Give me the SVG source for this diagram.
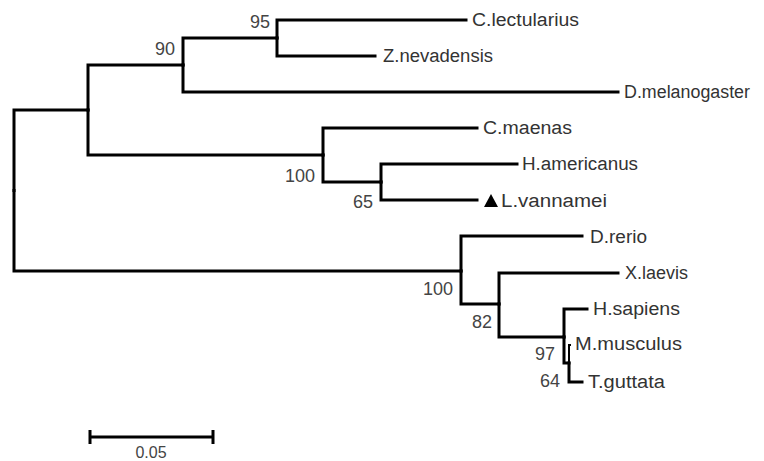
<svg xmlns="http://www.w3.org/2000/svg" width="764" height="461" viewBox="0 0 764 461">
<style>
.br{fill:none;stroke:#000;stroke-width:3;stroke-linecap:square;stroke-linejoin:miter}
.tx{font-family:"Liberation Sans",Arial,sans-serif;font-size:18px;fill:#333}
.bs{font-family:"Liberation Sans",Arial,sans-serif;font-size:18px;fill:#444;text-anchor:end}
.sc{font-family:"Liberation Sans",Arial,sans-serif;font-size:16px;fill:#444;text-anchor:middle}
</style>
<rect width="764" height="461" fill="#fff"/>
<g id="connectors">
<path class="br" d="M14 190.5 V110 H88"/>
<path class="br" d="M14 190.5 V271 H461"/>
<path class="br" d="M88 110 V65 H183"/>
<path class="br" d="M88 110 V155 H323"/>
<path class="br" d="M183 65 V38 H277"/>
<path class="br" d="M183 65 V92 H618"/>
<path class="br" d="M277 38 V20 H466"/>
<path class="br" d="M277 38 V56 H375"/>
<path class="br" d="M323 155 V128 H477"/>
<path class="br" d="M323 155 V182 H381"/>
<path class="br" d="M381 182 V164 H517"/>
<path class="br" d="M381 182 V200 H477"/>
<path class="br" d="M461 271 V236 H582"/>
<path class="br" d="M461 271 V304 H499"/>
<path class="br" d="M499 304 V273 H618"/>
<path class="br" d="M499 304 V337 H564"/>
<path class="br" d="M564 337 V309 H587"/>
<path class="br" d="M564 337 V363 H569"/>
<path class="br" d="M569 363 V345 H570" style="stroke-width:2"/>
<path class="br" d="M569 363 V382 H582"/>
</g>
<g id="n_root"/>
<g id="n_90"><text class="bs" x="175" y="55">90</text></g>
<g id="n_95"><text class="bs" x="270" y="28">95</text></g>
<g id="n_100a"><text class="bs" x="315" y="182">100</text></g>
<g id="n_65"><text class="bs" x="373" y="208">65</text></g>
<g id="n_100b"><text class="bs" x="453" y="295">100</text></g>
<g id="n_82"><text class="bs" x="492" y="328">82</text></g>
<g id="n_97"><text class="bs" x="555" y="360">97</text></g>
<g id="n_64"><text class="bs" x="560" y="387">64</text></g>
<g id="t_clectularius"><text class="tx" x="472" y="26" textLength="107" lengthAdjust="spacingAndGlyphs">C.lectularius</text></g>
<g id="t_znevadensis"><text class="tx" x="383" y="62" textLength="110" lengthAdjust="spacingAndGlyphs">Z.nevadensis</text></g>
<g id="t_dmelanogaster"><text class="tx" x="624" y="98" textLength="126" lengthAdjust="spacingAndGlyphs">D.melanogaster</text></g>
<g id="t_cmaenas"><text class="tx" x="483" y="134" textLength="89" lengthAdjust="spacingAndGlyphs">C.maenas</text></g>
<g id="t_hamericanus"><text class="tx" x="522" y="170" textLength="116" lengthAdjust="spacingAndGlyphs">H.americanus</text></g>
<g id="t_lvannamei"><polygon points="484,207 491,194 498,207" fill="#000"/><text class="tx" x="501" y="207" textLength="106" lengthAdjust="spacingAndGlyphs">L.vannamei</text></g>
<g id="t_drerio"><text class="tx" x="590" y="243" textLength="57" lengthAdjust="spacingAndGlyphs">D.rerio</text></g>
<g id="t_xlaevis"><text class="tx" x="625" y="279" textLength="63" lengthAdjust="spacingAndGlyphs">X.laevis</text></g>
<g id="t_hsapiens"><text class="tx" x="593" y="315" textLength="87" lengthAdjust="spacingAndGlyphs">H.sapiens</text></g>
<g id="t_mmusculus"><text class="tx" x="575" y="350" textLength="107" lengthAdjust="spacingAndGlyphs">M.musculus</text></g>
<g id="t_tguttata"><text class="tx" x="588" y="388" textLength="77" lengthAdjust="spacingAndGlyphs">T.guttata</text></g>
<g id="scale">
<path d="M90 437 H213 M90 430 V444 M213 430 V444" fill="none" stroke="#000" stroke-width="3"/>
<text class="sc" x="151" y="458">0.05</text>
</g>
</svg>
